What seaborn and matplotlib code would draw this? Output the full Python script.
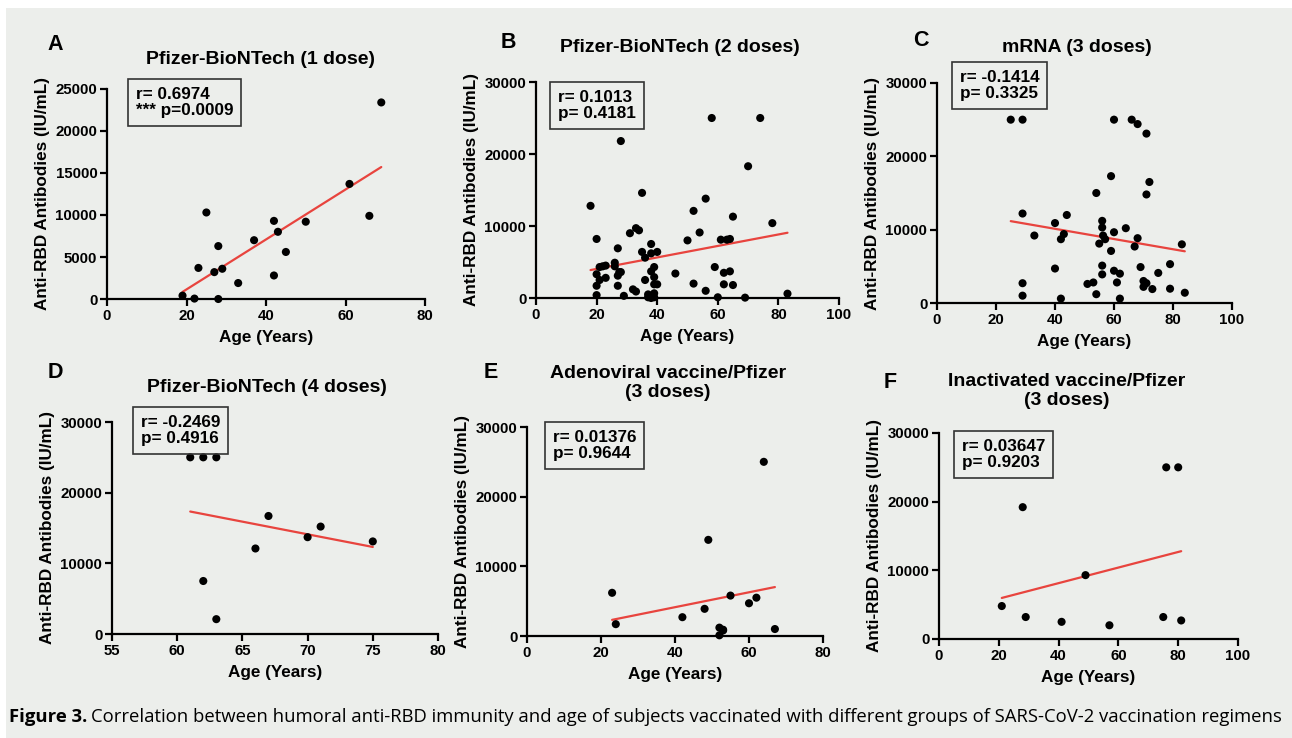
import matplotlib
matplotlib.use("Agg")
import matplotlib.pyplot as plt
from matplotlib.patches import Rectangle
import seaborn as sns

# --- data (age in years, anti-RBD in IU/mL) ---
age_a = [19, 22, 25, 23, 27, 29, 28, 28, 33, 37, 42, 43, 42, 45, 50, 61, 66, 69]
rbd_a = [400, 50, 10300, 3700, 3200, 3600, 6300, 0, 1900, 7000, 9300, 8000, 2800, 5600, 9200, 13700, 9900, 23400]

age_b = [18, 20, 20, 20, 20, 21, 21, 22, 23, 23, 26, 26, 27, 27, 27, 27.5, 28, 28, 29, 31,
         32, 33, 33, 34, 35, 35, 36, 36, 37, 37, 38, 38, 38, 38, 39, 39, 39, 39, 40, 40,
         39, 46, 50, 52, 52, 54, 56, 56, 58, 59, 60, 61, 62, 62, 63, 64, 64, 65, 65, 69,
         70, 74, 78, 83]
rbd_b = [12800, 8200, 400, 1700, 3300, 2500, 4300, 4400, 2800, 4500, 4900, 4400, 6900, 3100, 1700, 3600, 3600, 21800, 300, 9000,
         1200, 900, 9700, 9400, 14600, 6400, 5600, 2500, 500, 100, 7500, 6200, 3700, 0, 4300, 2900, 1900, 650, 6400, 1900,
         100, 3400, 8000, 12100, 2000, 9100, 1000, 13800, 25000, 4300, 100, 8100, 1900, 3500, 8100, 8200, 3700, 11300, 1800, 50,
         18300, 25000, 10400, 600]

age_c = [25, 29, 29, 29, 29, 33, 40, 40, 42, 42, 43, 44, 51, 53, 54, 54, 55, 56, 56, 56,
         56, 56.3, 57, 59, 59, 60, 60, 60, 61, 62, 62, 64, 66, 67, 68, 68, 69, 70, 70, 71,
         71, 71, 72, 73, 75, 79, 79, 83, 84]
rbd_c = [25000, 25000, 12200, 2700, 1000, 9200, 10900, 4700, 600, 8700, 9400, 12000, 2600, 2800, 1200, 15000, 8100, 11200, 10300, 5100,
         3900, 9200, 8700, 17300, 7100, 25000, 9650, 4400, 2800, 4000, 600, 10200, 25000, 7700, 24400, 8840, 4900, 2200, 3000, 23100,
         14800, 2700, 16500, 1900, 4100, 5300, 1950, 8000, 1400]

age_d = [61, 62, 63, 62, 63, 66, 67, 70, 71, 75]
rbd_d = [25000, 25000, 25000, 7500, 2100, 12100, 16700, 13700, 15200, 13100]

age_e = [23, 24, 42, 48, 49, 52, 52, 53, 53, 55, 60, 62, 64, 67]
rbd_e = [6200, 1700, 2700, 3900, 13800, 1200, 100, 900, 800, 5800, 4700, 5500, 25000, 1000]

age_f = [21, 28, 29, 41, 49, 57, 75, 76, 80, 81]
rbd_f = [4800, 19200, 3200, 2500, 9300, 2000, 3200, 25000, 25000, 2700]

titles = ["Pfizer-BioNTech (1 dose)", "Pfizer-BioNTech (2 doses)", "mRNA (3 doses)",
          "Pfizer-BioNTech (4 doses)", "Adenoviral vaccine/Pfizer\n(3 doses)",
          "Inactivated vaccine/Pfizer\n(3 doses)"]
letters = ["A", "B", "C", "D", "E", "F"]
stats = ["r= 0.6974\n*** p=0.0009", "r= 0.1013\np= 0.4181", "r= -0.1414\np= 0.3325",
         "r= -0.2469\np= 0.4916", "r= 0.01376\np= 0.9644", "r= 0.03647\np= 0.9203"]

W, H = 1292, 738
BG = "#eceeeb"
RED = "#e8443e"

sns.set_style("ticks")
plt.rcParams["font.family"] = ["Liberation Sans", "DejaVu Sans"]
plt.rcParams["font.weight"] = "bold"
plt.rcParams["text.color"] = "black"
plt.rcParams["axes.labelcolor"] = "black"
plt.rcParams["xtick.color"] = "black"
plt.rcParams["ytick.color"] = "black"

fig = plt.figure(figsize=(W / 100, H / 100), dpi=100, facecolor="white")
# grey page with a thin white margin at top/left
fig.patches.append(Rectangle((6 / W, 0), 1 - 6 / W, 1 - 8 / H, transform=fig.transFigure,
                             facecolor=BG, edgecolor="none", zorder=-10))


def px_axes(l, t, r, b):
    # axes from pixel box (left, top, right, bottom)
    return fig.add_axes([l / W, 1 - b / H, (r - l) / W, (b - t) / H])


panels = [
    dict(x=age_a, y=rbd_a, box=(107, 89, 425, 299), xlim=(0, 80), xstep=20, ylim=(0, 25000), ystep=5000,
         title=(260, 59), letter=(55, 45), stat=(127, 79)),
    dict(x=age_b, y=rbd_b, box=(536, 82, 839, 298), xlim=(0, 100), xstep=20, ylim=(0, 30000), ystep=10000,
         title=(680, 48), letter=(508, 42), stat=(549, 82)),
    dict(x=age_c, y=rbd_c, box=(937, 83, 1232, 303), xlim=(0, 100), xstep=20, ylim=(0, 30000), ystep=10000,
         title=(1077, 48), letter=(921, 40), stat=(951, 62)),
    dict(x=age_d, y=rbd_d, box=(112, 422, 438, 634), xlim=(55, 80), xstep=5, ylim=(0, 30000), ystep=10000,
         title=(267, 388), letter=(55, 372), stat=(132, 407)),
    dict(x=age_e, y=rbd_e, box=(527, 427, 823, 636), xlim=(0, 80), xstep=20, ylim=(0, 30000), ystep=10000,
         title=(668, 383), letter=(491, 372), stat=(544, 422)),
    dict(x=age_f, y=rbd_f, box=(939, 433, 1238, 639), xlim=(0, 100), xstep=20, ylim=(0, 30000), ystep=10000,
         title=(1067, 391), letter=(890, 382), stat=(953, 431)),
]

for i, p in enumerate(panels):
    ax = px_axes(*p["box"])
    ax.set_facecolor("none")
    sns.regplot(x=p["x"], y=p["y"], ax=ax, ci=None, truncate=True,
                scatter_kws=dict(s=34, color="black", alpha=1, edgecolor="none", clip_on=False, zorder=3),
                line_kws=dict(color=RED, lw=1.6, zorder=2))
    ax.set_xlim(*p["xlim"])
    ax.set_ylim(*p["ylim"])
    ax.set_xticks(range(p["xlim"][0], p["xlim"][1] + 1, p["xstep"]))
    ax.set_yticks(range(p["ylim"][0], p["ylim"][1] + 1, p["ystep"]))
    sns.despine(ax=ax)
    for s in ["left", "bottom"]:
        ax.spines[s].set_linewidth(1.6)
        ax.spines[s].set_color("black")
    ax.tick_params(length=5, width=1.6, labelsize=10.8, pad=2, color="black", labelcolor="black")
    for lab in ax.get_xticklabels() + ax.get_yticklabels():
        lab.set_fontweight("bold")
    ax.set_xlabel("Age (Years)", fontsize=12.3, fontweight="bold", labelpad=5)
    ax.set_ylabel("Anti-RBD Antibodies (IU/mL)", fontsize=12.3, fontweight="bold", labelpad=4)

    tx, ty = p["title"]
    fig.text(tx / W, 1 - ty / H, titles[i], ha="center", va="center", fontsize=14,
             fontweight="bold", linespacing=1.15)
    lx, ly = p["letter"]
    fig.text(lx / W, 1 - ly / H, letters[i], ha="center", va="center", fontsize=15.5, fontweight="bold")
    sx, sy = p["stat"]
    fig.text((sx + 9) / W, 1 - (sy + 8) / H, stats[i], ha="left", va="top", fontsize=12.3,
             fontweight="bold", linespacing=1.1,
             bbox=dict(boxstyle="square,pad=0.45", facecolor="none", edgecolor="#333333", lw=1.2))

# caption
cap_font = ["Open Sans", "DejaVu Sans"]
t1 = fig.text(9 / W, 1 - 717 / H, "Figure 3.", ha="left", va="center", fontsize=13.3,
              fontweight="bold", family=cap_font)
fig.canvas.draw()
bb = t1.get_window_extent(renderer=fig.canvas.get_renderer())
fig.text((bb.x1 + 4) / W, 1 - 717 / H,
         "Correlation between humoral anti-RBD immunity and age of subjects vaccinated with different groups of SARS-CoV-2 vaccination regimens",
         ha="left", va="center", fontsize=13.3, fontweight="normal", family=cap_font)

fig.savefig("out.png", dpi=100, facecolor="white")
